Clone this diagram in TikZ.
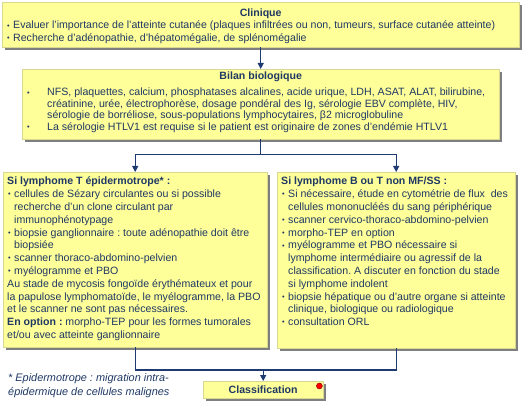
\documentclass[tikz,border=0pt]{standalone}
\usepackage{fontspec}
\setmainfont{Liberation Sans}
\usepackage{graphicx}
\usetikzlibrary{arrows.meta, positioning, shadows, calc}
\definecolor{boxfill}{HTML}{FFFF99}
\definecolor{boxedge}{HTML}{D8D890}
\definecolor{shadowgray}{HTML}{7F7F7F}
\definecolor{navy}{HTML}{1F3864}
\definecolor{linecol}{HTML}{1F3A70}
\frenchspacing
% bullet with hanging indent
\newcommand{\itm}[1][7pt]{\par\hangindent=#1\hangafter=1\noindent
  \makebox[#1][l]{\hspace{1pt}\raisebox{0.15ex}{\scalebox{0.7}{\textbullet}}}\ignorespaces}
\newcommand{\topgap}[1]{\rule{0pt}{#1}}

\begin{document}
\begin{tikzpicture}[x=1pt, y=-1pt,
        box/.style={rectangle, fill=boxfill, draw=boxedge, line width=0.4pt,
                    text=navy, anchor=north west, align=left,
                    inner xsep=4pt, inner ysep=3pt,
                    font=\fontsize{10.6}{12.5}\selectfont,
                    drop shadow={shadow xshift=2.5pt, shadow yshift=-2.5pt,
                                 fill=shadowgray, opacity=1}},
        side/.style={box, font=\fontsize{10.6}{12.8}\selectfont},
        line/.style={draw=linecol, line width=1.3pt},
        flow/.style={line, -{Triangle[width=6pt, length=6pt]}}
    ]
    \useasboundingbox (0,0) rectangle (522,403);
    \node [box] (clinique) at (2,2) {\parbox[t][39pt][t]{509pt}{\topgap{11.2pt}%
        {\centering\textbf{Clinique}\par}
        \itm Evaluer l’importance de l’atteinte cutanée (plaques infiltrées ou non, tumeurs, surface cutanée atteinte)
        \itm Recherche d’adénopathie, d’hépatomégalie, de splénomégalie}};
    \node [box] (bilan) at (22,69) {\parbox[t][64pt][t]{469pt}{\topgap{7.8pt}%
        {\centering\textbf{Bilan biologique}\par}
        \fontsize{10.6}{11.5}\selectfont\vspace{4.5pt}
        \itm[21pt] NFS, plaquettes, calcium, phosphatases alcalines, acide urique, LDH, ASAT, ALAT, bilirubine,\\
        créatinine, urée, électrophorèse, dosage pondéral des Ig, sérologie EBV complète, HIV,\\
        sérologie de borréliose, sous-populations lymphocytaires, β2 microglobuline
        \itm[21pt] La sérologie HTLV1 est requise si le patient est originaire de zones d'endémie HTLV1}};
    \node [side] (lymT) at (3,172) {\parbox[t][169pt][t]{256pt}{\topgap{9.8pt}%
        \textbf{Si lymphome T épidermotrope* :}
        \itm cellules de Sézary circulantes ou si possible\\
        recherche d’un clone circulant par\\
        immunophénotypage
        \itm biopsie ganglionnaire : toute adénopathie doit être\\
        biopsiée
        \itm scanner thoraco-abdomino-pelvien
        \itm myélogramme et PBO\par
        Au stade de mycosis fongoïde érythémateux et pour\\
        la papulose lymphomatoïde, le myélogramme, la PBO\\
        et le scanner ne sont pas nécessaires.\par
        \textbf{En option :} morpho-TEP pour les formes tumorales\\
        et/ou avec atteinte ganglionnaire}};
    \node [side] (lymB) at (277,172) {\parbox[t][170pt][t]{230pt}{\topgap{9.8pt}%
        \textbf{Si lymphome B ou T non MF/SS :}
        \itm Si nécessaire, étude en cytométrie de flux\ \ des\\
        cellules mononucléés du sang périphérique
        \itm scanner cervico-thoraco-abdomino-pelvien
        \itm morpho-TEP en option
        \itm myélogramme et PBO nécessaire si\\
        lymphome intermédiaire ou agressif de la\\
        classification. A discuter en fonction du stade\\
        si lymphome indolent
        \itm biopsie hépatique ou d’autre organe si atteinte\\
        clinique, biologique ou radiologique
        \itm consultation ORL}};
    \node [box, inner sep=0pt, minimum width=120pt, minimum height=17pt,
           align=center] (classif) at (203,381) {\textbf{Classification}};
    \node [anchor=north west, inner sep=0pt, text=navy, align=left,
           font=\fontsize{10.9}{14}\selectfont\itshape] (note) at (8,373)
          {* Epidermotrope : migration intra-\\épidermique de cellules malignes};
    \fill [red, draw=red!50!black, line width=0.4pt]
          ($(classif.north east)+(-4,5)$) circle (3);
    % connectors
    \coordinate (split) at ($(bilan.south)+(0,15)$);
    \coordinate (join) at (classif.north |- 0,370);
    \draw [flow] (clinique.south) -- (bilan.north);
    \draw [line] (bilan.south) -- (split);
    \draw [flow] (split) -| (lymT.north);
    \draw [flow] (split) -| (lymB.north);
    \draw [line] (lymT.south) |- (join) -| (lymB.south);
    \draw [flow] (join) -- (classif.north);
\end{tikzpicture}
\end{document}
